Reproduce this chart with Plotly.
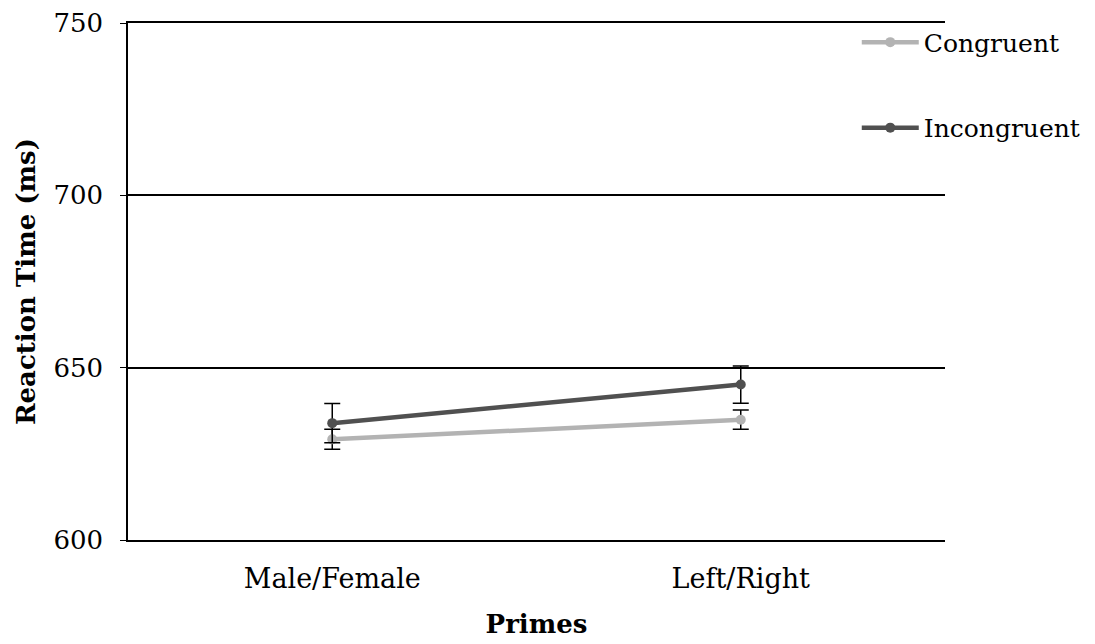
import plotly.graph_objects as go

categories = ["Male/Female", "Left/Right"]
congruent = [629.2, 634.9]
congruent_err = [2.9, 2.8]
incongruent = [633.9, 645.1]
incongruent_err = [5.7, 5.4]
y_ticks = [600, 650, 700, 750]

FONT = "DejaVu Serif"

fig = go.Figure()
fig.add_trace(go.Scatter(
    x=categories, y=congruent, name="Congruent", mode="lines+markers",
    line=dict(color="#b3b3b3", width=4.5), marker=dict(size=10, color="#b3b3b3"),
    error_y=dict(type="data", array=congruent_err, color="black", thickness=1.5, width=8),
    legendgroup="c",
))
fig.add_trace(go.Scatter(
    x=categories, y=incongruent, name="Incongruent", mode="lines+markers",
    line=dict(color="#505050", width=4.5), marker=dict(size=10, color="#505050"),
    error_y=dict(type="data", array=incongruent_err, color="black", thickness=1.5, width=8),
    legendgroup="i",
))

fig.update_layout(
    width=1095, height=644,
    margin=dict(l=128, r=150, t=23, b=104, autoexpand=False),
    plot_bgcolor="white", paper_bgcolor="white",
    font=dict(family=FONT, size=26, color="black"),
    showlegend=True,
    legend=dict(x=0.892, xanchor="left", y=1.007, yanchor="top", font=dict(size=25),
                itemwidth=57, tracegroupgap=50, bgcolor="rgba(0,0,0,0)"),
    xaxis=dict(range=[-0.5, 1.5], showgrid=False, showline=True, mirror=True,
               linecolor="black", linewidth=1.5, ticks="", ticklabelstandoff=14,
               title=dict(text="<b>Primes</b>", font=dict(size=26), standoff=22),
               tickfont=dict(size=27)),
    yaxis=dict(range=[600, 750], tickvals=y_ticks, showgrid=True, gridcolor="black",
               gridwidth=1.5, showline=True, linecolor="black", linewidth=1.5,
               ticks="outside", ticklen=6, tickcolor="black", zeroline=False,
               ticklabelstandoff=12,
               title=dict(text="<b>Reaction Time (ms)</b>", font=dict(size=26), standoff=10),
               tickfont=dict(size=26)),
)
fig.write_html("out.html")
